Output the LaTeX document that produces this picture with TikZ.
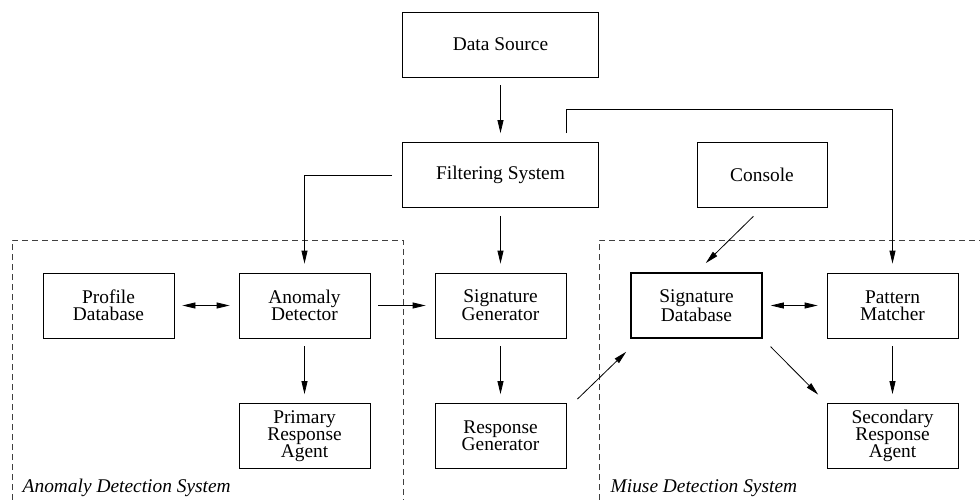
\documentclass[tikz,border=0pt]{standalone}
\usepackage{fontspec}
\setmainfont{Liberation Serif}
\newfontfamily\figfont{Liberation Serif}
\usetikzlibrary{arrows.meta}
\def\colsep{196pt}
\def\rowsep{130.5pt}

\begin{document}
\begin{tikzpicture}[x=\colsep,y=\rowsep,>={Triangle[length=13pt,width=6pt]},
    shorten >=9pt,shorten <=8pt,->,draw=black,line width=0.8pt]
  \tikzstyle{block}=[draw,rectangle,minimum width=131pt,minimum height=65pt,
    inner sep=0pt,align=center,font=\figfont\fontsize{19.4}{17}\selectfont]
  \tikzstyle{region}=[-,shorten >=0pt,shorten <=0pt,draw=black!75,
    dash pattern=on 6pt off 4pt]
  \tikzstyle{annot}=[font=\figfont\itshape\fontsize{19.4}{17}\selectfont,anchor=base west]

  \useasboundingbox (-108.5pt,44.5pt) rectangle (871.5pt,-455.5pt);

  \node[block,minimum width=196pt] (DS) at (2,0) {Data Source};
  \node[block,minimum width=196pt] (FS) at (2,-1) {Filtering System};
  \node[block,minimum width=130pt] (CO) at (3.334,-1) {Console};

  \foreach \name / \x / \lw / \txt in {PD/0/0.8pt/{Profile\\Database},
      AD/1/0.8pt/{Anomaly\\Detector}, SG/2/0.8pt/{Signature\\Generator},
      SD/3/1.6pt/{Signature\\Database}, PM/4/0.8pt/{Pattern\\Matcher}}
    \node[block,line width=\lw] (\name) at (\x,-2) {\txt};

  \foreach \name / \x / \txt in {PR/1/{Primary\\Response\\Agent},
      RG/2/{Response\\Generator}, SR/4/{Secondary\\Response\\Agent}}
    \node[block] (\name) at (\x,-3) {\txt};

  % dashed system borders
  \draw[region] (-96.5pt,-455.5pt) |- (294.5pt,-195.5pt) -- (294.5pt,-455.5pt);
  \draw[region] (490.5pt,-455.5pt) |- (871.5pt,-195.5pt);

  \node[annot] (AS) at (-89.5pt,-447.5pt) {Anomaly Detection System};
  \node[annot] (MS) at (498.5pt,-447.5pt) {Miuse Detection System};

  \path (DS) edge (FS);
  \path (FS) edge (SG);
  \path (AD) edge (SG);
  \path (AD) edge (PR);
  \path (SG) edge (RG);
  \path (PM) edge (SR);
  \path[<->] (PD) edge (AD);
  \path[<->] (SD) edge (PM);
  \path (SD.south east) edge[shorten <=11pt,shorten >=12pt] (SR.north west);
  \path (CO.south) edge[shorten <=12pt,shorten >=13pt] (SD.north);
  \path ([xshift=11pt,yshift=4pt]RG.north east)
    edge[shorten <=0pt,shorten >=0pt] ([xshift=-4pt,yshift=-13pt]SD.south west);

  \draw[shorten <=10pt] (FS.west) -| (AD.north);
  \draw[shorten <=0pt] ([xshift=-33pt,yshift=9pt]FS.north east) -- ++(0,24pt) -| (PM.north);

\end{tikzpicture}
\end{document}
